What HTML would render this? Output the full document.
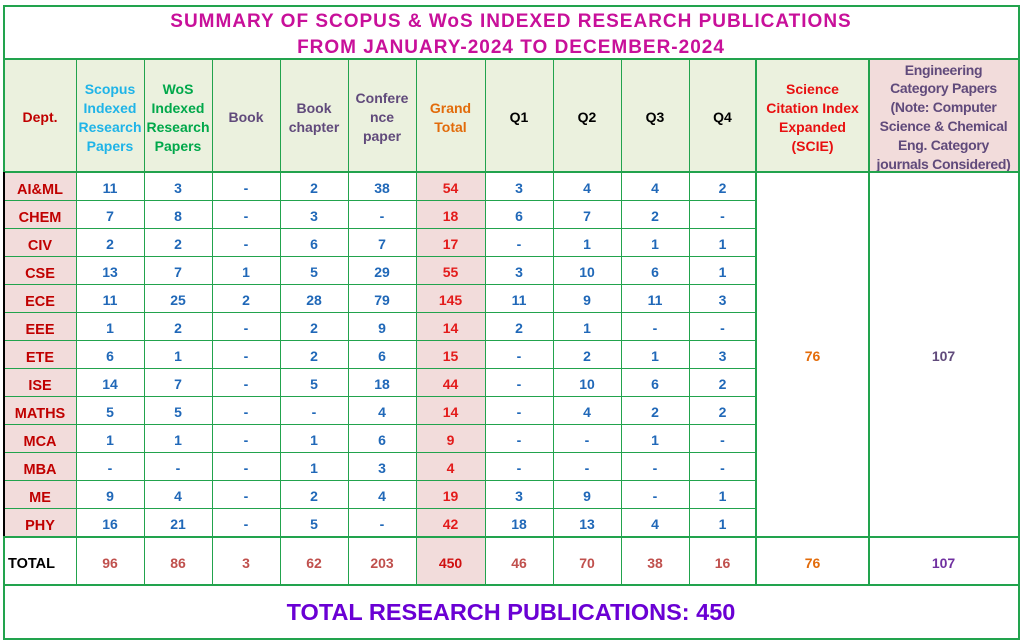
<!DOCTYPE html>
<html><head><meta charset="utf-8"><style>
html,body{margin:0;padding:0;background:#fff;}
body{width:1021px;height:642px;position:relative;overflow:hidden;font-family:"Liberation Sans",Arial,sans-serif;font-weight:bold;}
.grid{position:absolute;left:4px;top:59px;display:grid;
grid-template-columns:72px 68px 68px 68px 68px 68px 69px 68px 68px 68px 67px 113px 149px;
grid-template-rows:113px repeat(13,28px) 49px;}
.grid>div{display:flex;align-items:center;justify-content:center;text-align:center;font-size:14px;color:#2068b8;white-space:nowrap;padding-top:4px;box-sizing:border-box;}
.grid>div.h{background:#ebf1de;line-height:19px;font-size:14px;}
.grid>div.d{background:#f2dcdb;color:#c00000;font-size:14.5px;padding-top:7px;}
.grid>div.g{background:#f2dcdb;color:#e31b1b;}
.grid>div.t{color:#c0504d;font-size:14px;}
.grid>div.eng{color:#604a7b;background:#f2dcdb;letter-spacing:-0.3px;line-height:18.8px;padding-top:3px;}
.L{position:absolute;background:#22a34d;}
.title{position:absolute;left:4px;width:1014px;text-align:center;color:#c8109a;font-size:19px;letter-spacing:1px;white-space:nowrap;}
</style></head><body>
<div class="title" style="top:11px;">SUMMARY OF SCOPUS &amp; WoS INDEXED RESEARCH PUBLICATIONS</div>
<div class="title" style="top:37px;">FROM JANUARY-2024 TO DECEMBER-2024</div>

<div class="grid">
<div class="h" style="color:#c00000">Dept.</div>
<div class="h" style="color:#1fb4e8">Scopus<br>Indexed<br>Research<br>Papers</div>
<div class="h" style="color:#00a84a">WoS<br>Indexed<br>Research<br>Papers</div>
<div class="h" style="color:#604a7b">Book</div>
<div class="h" style="color:#604a7b">Book<br>chapter</div>
<div class="h" style="color:#604a7b">Confere<br>nce<br>paper</div>
<div class="h" style="color:#e26b0a">Grand<br>Total</div>
<div class="h" style="color:#000">Q1</div>
<div class="h" style="color:#000">Q2</div>
<div class="h" style="color:#000">Q3</div>
<div class="h" style="color:#000">Q4</div>
<div class="h" style="color:#e81010">Science<br>Citation Index<br>Expanded<br>(SCIE)</div>
<div class="eng">Engineering<br>Category Papers<br>(Note: Computer<br>Science &amp; Chemical<br>Eng. Category<br>journals Considered)</div>

<div class="d">AI&amp;ML</div><div>11</div><div>3</div><div>-</div><div>2</div><div>38</div><div class="g">54</div><div>3</div><div>4</div><div>4</div><div>2</div>
<div style="grid-column:12;grid-row:2 / span 13;color:#e46c0a">76</div>
<div style="grid-column:13;grid-row:2 / span 13;color:#604a7b">107</div>
<div class="d">CHEM</div><div>7</div><div>8</div><div>-</div><div>3</div><div>-</div><div class="g">18</div><div>6</div><div>7</div><div>2</div><div>-</div>
<div class="d">CIV</div><div>2</div><div>2</div><div>-</div><div>6</div><div>7</div><div class="g">17</div><div>-</div><div>1</div><div>1</div><div>1</div>
<div class="d">CSE</div><div>13</div><div>7</div><div>1</div><div>5</div><div>29</div><div class="g">55</div><div>3</div><div>10</div><div>6</div><div>1</div>
<div class="d">ECE</div><div>11</div><div>25</div><div>2</div><div>28</div><div>79</div><div class="g">145</div><div>11</div><div>9</div><div>11</div><div>3</div>
<div class="d">EEE</div><div>1</div><div>2</div><div>-</div><div>2</div><div>9</div><div class="g">14</div><div>2</div><div>1</div><div>-</div><div>-</div>
<div class="d">ETE</div><div>6</div><div>1</div><div>-</div><div>2</div><div>6</div><div class="g">15</div><div>-</div><div>2</div><div>1</div><div>3</div>
<div class="d">ISE</div><div>14</div><div>7</div><div>-</div><div>5</div><div>18</div><div class="g">44</div><div>-</div><div>10</div><div>6</div><div>2</div>
<div class="d">MATHS</div><div>5</div><div>5</div><div>-</div><div>-</div><div>4</div><div class="g">14</div><div>-</div><div>4</div><div>2</div><div>2</div>
<div class="d">MCA</div><div>1</div><div>1</div><div>-</div><div>1</div><div>6</div><div class="g">9</div><div>-</div><div>-</div><div>1</div><div>-</div>
<div class="d">MBA</div><div>-</div><div>-</div><div>-</div><div>1</div><div>3</div><div class="g">4</div><div>-</div><div>-</div><div>-</div><div>-</div>
<div class="d">ME</div><div>9</div><div>4</div><div>-</div><div>2</div><div>4</div><div class="g">19</div><div>3</div><div>9</div><div>-</div><div>1</div>
<div class="d">PHY</div><div>16</div><div>21</div><div>-</div><div>5</div><div>-</div><div class="g">42</div><div>18</div><div>13</div><div>4</div><div>1</div>

<div style="color:#000;justify-content:flex-start;padding-left:4px;font-size:14.5px;padding-top:6px">TOTAL</div>
<div class="t">96</div><div class="t">86</div><div class="t">3</div><div class="t">62</div><div class="t">203</div>
<div style="background:#f2dcdb;color:#d01010">450</div>
<div class="t">46</div><div class="t">70</div><div class="t">38</div><div class="t">16</div>
<div style="color:#e26b0a">76</div>
<div style="color:#7030a0">107</div>
</div>

<div style="position:absolute;left:4px;width:1014px;top:599px;text-align:center;font-size:23.5px;color:#6a00d4;white-space:nowrap;">TOTAL RESEARCH PUBLICATIONS: 450</div>

<!-- horizontal lines -->
<div class="L" style="left:3px;top:4.5px;width:1017px;height:2px"></div>
<div class="L" style="left:3px;top:58px;width:1017px;height:2px"></div>
<div class="L" style="left:3px;top:171px;width:1017px;height:2px"></div>
<div class="L" style="left:4px;top:200px;width:752px;height:1.3px"></div>
<div class="L" style="left:4px;top:228px;width:752px;height:1.3px"></div>
<div class="L" style="left:4px;top:256px;width:752px;height:1.3px"></div>
<div class="L" style="left:4px;top:284px;width:752px;height:1.3px"></div>
<div class="L" style="left:4px;top:312px;width:752px;height:1.3px"></div>
<div class="L" style="left:4px;top:340px;width:752px;height:1.3px"></div>
<div class="L" style="left:4px;top:368px;width:752px;height:1.3px"></div>
<div class="L" style="left:4px;top:396px;width:752px;height:1.3px"></div>
<div class="L" style="left:4px;top:424px;width:752px;height:1.3px"></div>
<div class="L" style="left:4px;top:452px;width:752px;height:1.3px"></div>
<div class="L" style="left:4px;top:480px;width:752px;height:1.3px"></div>
<div class="L" style="left:4px;top:508px;width:752px;height:1.3px"></div>
<div class="L" style="left:3px;top:535.5px;width:1017px;height:2px"></div>
<div class="L" style="left:3px;top:584px;width:1017px;height:2px"></div>
<div class="L" style="left:3px;top:638px;width:1017px;height:2px"></div>
<!-- vertical lines -->
<div class="L" style="left:3px;top:4.5px;width:2px;height:168px"></div>
<div style="position:absolute;left:2.5px;top:172px;width:2.5px;height:364px;background:#000"></div>
<div class="L" style="left:3px;top:536px;width:2px;height:104px"></div>
<div class="L" style="left:1017.5px;top:4.5px;width:2px;height:635px"></div>
<div class="L" style="left:75.5px;top:58px;width:1.3px;height:527px"></div>
<div class="L" style="left:143.5px;top:58px;width:1.3px;height:527px"></div>
<div class="L" style="left:211.5px;top:58px;width:1.3px;height:527px"></div>
<div class="L" style="left:279.5px;top:58px;width:1.3px;height:527px"></div>
<div class="L" style="left:347.5px;top:58px;width:1.3px;height:527px"></div>
<div class="L" style="left:415.5px;top:58px;width:1.3px;height:527px"></div>
<div class="L" style="left:484.5px;top:58px;width:1.3px;height:527px"></div>
<div class="L" style="left:552.5px;top:58px;width:1.3px;height:527px"></div>
<div class="L" style="left:620.5px;top:58px;width:1.3px;height:527px"></div>
<div class="L" style="left:688.5px;top:58px;width:1.3px;height:527px"></div>
<div class="L" style="left:755px;top:58px;width:2px;height:527px"></div>
<div class="L" style="left:868px;top:58px;width:2px;height:527px"></div>
</body></html>
